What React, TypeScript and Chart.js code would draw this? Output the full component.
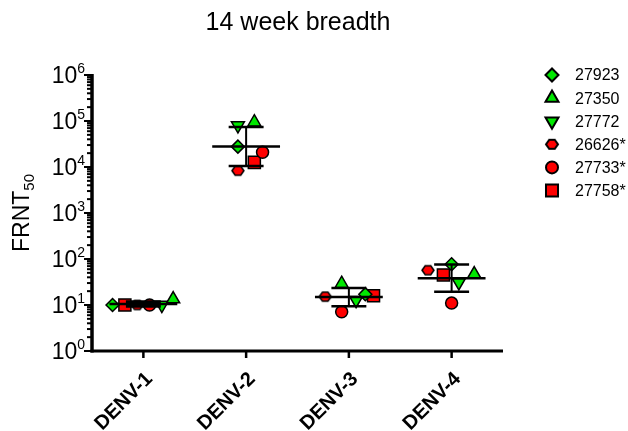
import React, { useEffect, useRef } from 'react';
import { Chart, registerables } from 'chart.js';
import { drawPoint } from 'chart.js/helpers';

Chart.register(...registerables);

// ---- data ----
const categories = ['DENV-1', 'DENV-2', 'DENV-3', 'DENV-4'];
const seriesNames = ['27923', '27350', '27772', '26626*', '27733*', '27758*'];
const s27923 = [10, 27700, 17.2, 77];
const s27350 = [13.5, 94000, 29, 47];
const s27772 = [10, 80000, 12.7, 31];
const s26626 = [10, 8300, 15.2, 57];
const s27733 = [10, 21000, 7.1, 11];
const s27758 = [10, 12600, 15.8, 45];
// horizontal scatter spread of each point within its column (category units)
const j27923 = [-0.3, -0.08, 0.16, 0.0];
const j27350 = [0.29, 0.08, -0.07, 0.22];
const j27772 = [0.18, -0.08, 0.07, 0.07];
const j26626 = [-0.06, -0.08, -0.23, -0.23];
const j27733 = [0.06, 0.16, -0.07, 0.0];
const j27758 = [-0.18, 0.08, 0.24, -0.08];
const yTickExponents = [0, 1, 2, 3, 4, 5, 6];
const title = '14 week breadth';
const yTitle = 'FRNT';
const yTitleSub = '50';

const seriesValues = [s27923, s27350, s27772, s26626, s27733, s27758];
const seriesJitter = [j27923, j27350, j27772, j26626, j27733, j27758];

const GREEN = '#00e800';
const RED = '#ff0000';
const FONT = "'Liberation Sans', Arial, Helvetica, sans-serif";

function makeHex(w: number, h: number, lw: number) {
  const c = document.createElement('canvas');
  c.width = w + 4;
  c.height = h + 4;
  const g = c.getContext('2d')!;
  const ox = 2, oy = 2;
  g.beginPath();
  g.moveTo(ox, oy + h / 2);
  g.lineTo(ox + w * 0.27, oy);
  g.lineTo(ox + w * 0.73, oy);
  g.lineTo(ox + w, oy + h / 2);
  g.lineTo(ox + w * 0.73, oy + h);
  g.lineTo(ox + w * 0.27, oy + h);
  g.closePath();
  g.fillStyle = RED;
  g.fill();
  g.lineWidth = lw;
  g.strokeStyle = '#000';
  g.stroke();
  return c;
}

export default function App() {
  const ref = useRef<HTMLCanvasElement | null>(null);
  useEffect(() => {
    document.body.style.margin = '0';
    const hex = makeHex(12, 9, 1.5);
    const hexLegend = makeHex(12, 9, 2);
    const styles: any[] = [
      { pointStyle: 'rectRot', radius: 6.5, rotation: 0, color: GREEN },
      { pointStyle: 'triangle', radius: 7.5, rotation: 0, color: GREEN },
      { pointStyle: 'triangle', radius: 7.5, rotation: 180, color: GREEN },
      { pointStyle: hex, legendStyle: hexLegend, radius: 6, rotation: 0, color: RED },
      { pointStyle: 'circle', radius: 6, rotation: 0, color: RED },
      { pointStyle: 'rect', radius: 8.5, rotation: 0, color: RED },
    ];

    const datasets = seriesNames.map((name, k) => ({
      type: 'scatter' as const,
      label: name,
      data: categories.map((_, i) => ({ x: i + seriesJitter[k][i], y: seriesValues[k][i] })),
      pointStyle: styles[k].pointStyle,
      pointRadius: styles[k].radius,
      pointRotation: styles[k].rotation,
      backgroundColor: styles[k].color,
      borderColor: '#000',
      borderWidth: 1.5,
      showLine: false,
      clip: false as any,
    }));

    const meanHalf = 0.33;
    const capHalf = 0.17;

    const plugin = {
      id: 'custom',
      afterDatasetsDraw(chart: any) {
        const { ctx, chartArea: a, scales } = chart;
        const xs = scales.x, ys = scales.y;
        ctx.save();
        // mean +/- SD (geometric)
        ctx.strokeStyle = '#000';
        ctx.lineCap = 'butt';
        categories.forEach((_, i) => {
          const logs = seriesValues.map((s) => Math.log10(s[i]));
          const m = logs.reduce((p, v) => p + v, 0) / logs.length;
          const sd = Math.sqrt(logs.reduce((p, v) => p + (v - m) * (v - m), 0) / (logs.length - 1));
          const yM = ys.getPixelForValue(Math.pow(10, m));
          const yU = ys.getPixelForValue(Math.pow(10, m + sd));
          const yL = ys.getPixelForValue(Math.pow(10, m - sd));
          const xc = xs.getPixelForValue(i);
          ctx.lineWidth = 2.5;
          ctx.beginPath();
          ctx.moveTo(xs.getPixelForValue(i - meanHalf), yM);
          ctx.lineTo(xs.getPixelForValue(i + meanHalf), yM);
          ctx.moveTo(xs.getPixelForValue(i - capHalf), yU);
          ctx.lineTo(xs.getPixelForValue(i + capHalf), yU);
          ctx.moveTo(xs.getPixelForValue(i - capHalf), yL);
          ctx.lineTo(xs.getPixelForValue(i + capHalf), yL);
          ctx.stroke();
          ctx.lineWidth = 2;
          ctx.beginPath();
          ctx.moveTo(xc, yU);
          ctx.lineTo(xc, yL);
          ctx.stroke();
        });

        // y axis
        ctx.fillStyle = '#000';
        ctx.strokeStyle = '#000';
        ctx.lineWidth = 3.5;
        ctx.beginPath();
        ctx.moveTo(a.left, a.top - 1);
        ctx.lineTo(a.left, a.bottom + 1.5);
        ctx.stroke();
        ctx.lineWidth = 2;
        for (let e = yTickExponents[0]; e <= yTickExponents[yTickExponents.length - 1]; e++) {
          for (let mm = 1; mm <= 9; mm++) {
            if (e === yTickExponents[yTickExponents.length - 1] && mm > 1) break;
            const y = ys.getPixelForValue(mm * Math.pow(10, e));
            const len = mm === 1 ? 8 : 5;
            ctx.beginPath();
            ctx.moveTo(a.left, y);
            ctx.lineTo(a.left - len, y);
            ctx.stroke();
          }
        }
        // y tick labels 10^n
        yTickExponents.forEach((e) => {
          const y = ys.getPixelForValue(Math.pow(10, e));
          const right = a.left - 7;
          ctx.font = `14px ${FONT}`;
          const sup = String(e);
          const sw = ctx.measureText(sup).width;
          ctx.textAlign = 'left';
          ctx.textBaseline = 'alphabetic';
          ctx.fillText(sup, right - sw, y - 2);
          ctx.font = `23px ${FONT}`;
          ctx.textAlign = 'right';
          ctx.fillText('10', right - sw, y + 8);
        });

        // x axis
        ctx.lineWidth = 3;
        ctx.beginPath();
        ctx.moveTo(a.left - 1.5, a.bottom);
        ctx.lineTo(a.right, a.bottom);
        ctx.stroke();
        ctx.lineWidth = 2.5;
        categories.forEach((c, i) => {
          const x = xs.getPixelForValue(i);
          ctx.beginPath();
          ctx.moveTo(x, a.bottom);
          ctx.lineTo(x, a.bottom + 7);
          ctx.stroke();
          ctx.save();
          ctx.translate(x + 6, a.bottom + 25);
          ctx.rotate(-Math.PI / 4);
          ctx.font = `bold 20px ${FONT}`;
          ctx.textAlign = 'right';
          ctx.textBaseline = 'middle';
          ctx.fillText(c, 0, 0);
          ctx.restore();
        });

        // title
        ctx.font = `25px ${FONT}`;
        ctx.textAlign = 'center';
        ctx.textBaseline = 'alphabetic';
        ctx.fillText(title, 298, 30);

        // y title
        ctx.save();
        ctx.translate(29, (a.top + a.bottom) / 2);
        ctx.rotate(-Math.PI / 2);
        ctx.font = `23px ${FONT}`;
        const w1 = ctx.measureText(yTitle).width;
        ctx.font = `15px ${FONT}`;
        const w2 = ctx.measureText(yTitleSub).width;
        const start = -(w1 + w2) / 2;
        ctx.font = `23px ${FONT}`;
        ctx.textAlign = 'left';
        ctx.fillText(yTitle, start, 0);
        ctx.font = `15px ${FONT}`;
        ctx.fillText(yTitleSub, start + w1, 5);
        ctx.restore();

        // legend
        seriesNames.forEach((name, k) => {
          const ly = 75 + k * 23.1;
          ctx.fillStyle = styles[k].color;
          ctx.strokeStyle = '#000';
          ctx.lineWidth = 2;
          drawPoint(ctx, {
            pointStyle: styles[k].legendStyle || styles[k].pointStyle,
            radius: styles[k].radius,
            rotation: styles[k].rotation,
            borderWidth: 2,
          } as any, 552, ly);
          ctx.fillStyle = '#000';
          ctx.font = `16px ${FONT}`;
          ctx.textAlign = 'left';
          ctx.textBaseline = 'middle';
          ctx.fillText(name, 575, ly + 1);
        });
        ctx.restore();
      },
    };

    const chart = new Chart(ref.current!, {
      type: 'scatter',
      data: { datasets },
      options: {
        animation: false,
        responsive: false,
        devicePixelRatio: 1,
        layout: { padding: { left: 92, right: 125, top: 75, bottom: 80 } },
        scales: {
          x: { type: 'linear', min: -0.5, max: 3.5, display: false },
          y: { type: 'logarithmic', min: 1, max: 1e6, display: false },
        },
        plugins: { legend: { display: false }, tooltip: { enabled: false } },
      },
      plugins: [plugin],
    });
    return () => chart.destroy();
  }, []);
  return (
    <div style={{ width: 628, height: 431 }}>
      <canvas ref={ref} width={628} height={431} style={{ display: 'block' }} />
    </div>
  );
}
